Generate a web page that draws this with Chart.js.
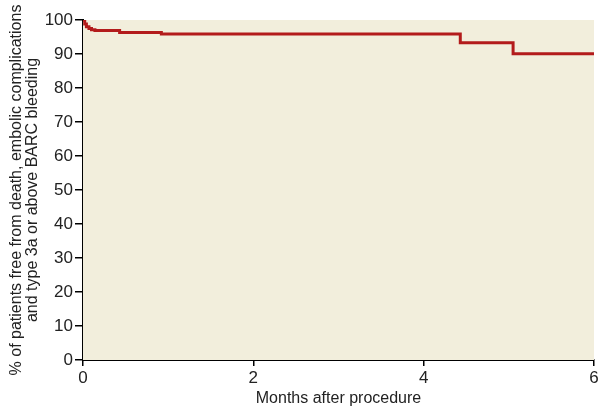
<!DOCTYPE html>
<html>
<head>
<meta charset="utf-8">
<script src="https://cdn.jsdelivr.net/npm/chart.js@4"></script>
<style>
  html, body { margin: 0; padding: 0; background: #fff; }
  #wrap { width: 598px; height: 410px; }
</style>
</head>
<body>
<div id="wrap"><canvas id="km"></canvas></div>
<script>
// Kaplan-Meier: freedom from death, embolic complications, BARC >= 3a bleeding
const months   = [0, 0.02, 0.04, 0.07, 0.10, 0.14, 0.43, 0.92, 4.43, 5.05, 6];
const freePct  = [100, 98.8, 98.0, 97.5, 97.1, 96.9, 96.3, 95.9, 93.3, 90.1, 90.1];
const xTicks   = [0, 2, 4, 6];
const yTicks   = [0, 10, 20, 30, 40, 50, 60, 70, 80, 90, 100];

const FONT = '"Liberation Sans", Arial, sans-serif';

const plotBg = {
  id: 'plotBg',
  beforeDatasetsDraw(chart) {
    const { ctx, chartArea: a } = chart;
    ctx.save();
    ctx.fillStyle = '#f2eedc';
    ctx.fillRect(a.left, a.top, a.right - a.left, a.bottom - a.top);
    ctx.restore();
  }
};

new Chart(document.getElementById('km'), {
  type: 'line',
  data: {
    datasets: [{
      data: months.map((m, i) => ({ x: m, y: freePct[i] })),
      stepped: true,
      borderColor: '#b31b1b', borderWidth: 3, pointRadius: 0, fill: false
    }]
  },
  options: {
    responsive: true, maintainAspectRatio: false, animation: false,
    layout: { padding: { top: 20, right: 4, left: 0, bottom: 0 } },
    plugins: { legend: { display: false }, tooltip: { enabled: false } },
    scales: {
      x: {
        type: 'linear', min: 0, max: 6,
        afterBuildTicks: s => { s.ticks = xTicks.map(v => ({ value: v })); },
        grid: { drawOnChartArea: false, drawTicks: true, tickLength: 6, color: '#000', lineWidth: 1.5 },
        border: { color: '#000', width: 2 },
        ticks: { color: '#222', font: { family: FONT, size: 17 }, padding: 2, maxRotation: 0 },
        title: { display: true, text: 'Months after procedure', color: '#222', font: { family: FONT, size: 16 }, padding: { top: 0, bottom: 2 } },
        afterFit: s => { s.height = 50; s.paddingLeft = 0; s.paddingRight = 0; }
      },
      y: {
        min: 0, max: 100,
        afterBuildTicks: s => { s.ticks = yTicks.map(v => ({ value: v })); },
        grid: { drawOnChartArea: false, drawTicks: true, tickLength: 8, color: '#000', lineWidth: 1.5 },
        border: { color: '#000', width: 2 },
        ticks: { color: '#222', font: { family: FONT, size: 17 }, padding: 2 },
        title: {
          display: true,
          text: ['% of patients free from death, embolic complications', 'and type 3a or above BARC bleeding'],
          color: '#222', font: { family: FONT, size: 16, lineHeight: 1.0 }, padding: { top: 9, bottom: 0 }
        },
        afterFit: s => { s.width = 83; }
      }
    }
  },
  plugins: [plotBg]
});
</script>
</body>
</html>
